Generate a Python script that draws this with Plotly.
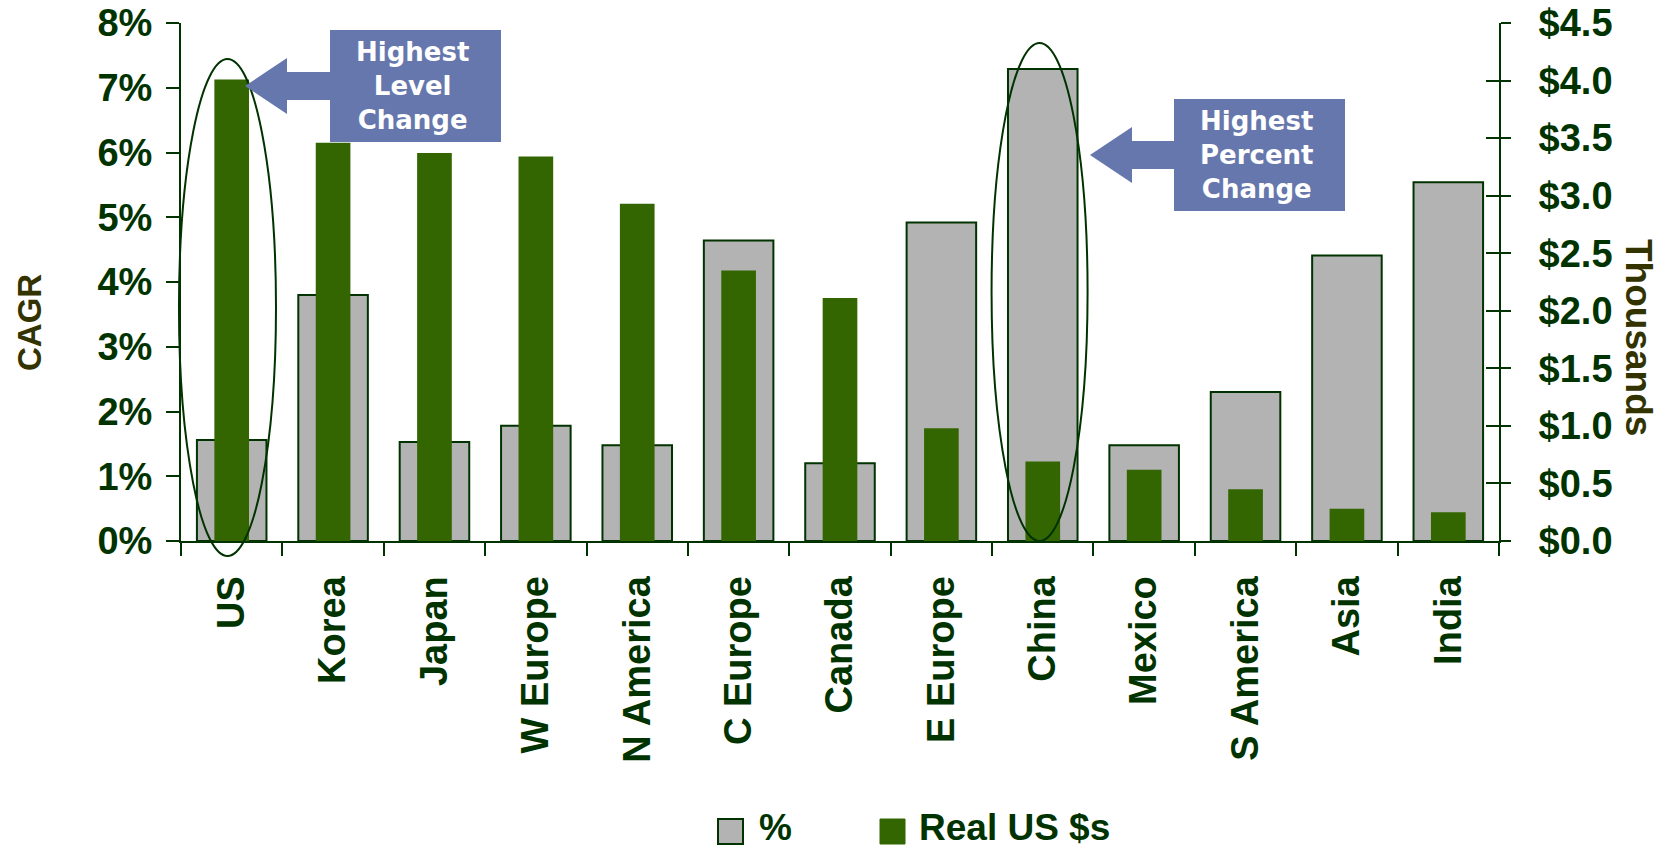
import plotly.graph_objects as go

# ---- data -------------------------------------------------------------
regions = ["US", "Korea", "Japan", "W Europe", "N America", "C Europe", "Canada",
           "E Europe", "China", "Mexico", "S America", "Asia", "India"]
cagr_pct = [1.56, 3.80, 1.53, 1.78, 1.48, 4.64, 1.20, 4.92, 7.29, 1.48, 2.30, 4.41, 5.54]
real_usd_k = [4.01, 3.46, 3.37, 3.34, 2.93, 2.35, 2.11, 0.98, 0.69, 0.62, 0.45, 0.28, 0.25]

pct_ticks = [0, 1, 2, 3, 4, 5, 6, 7, 8]
pct_labels = ["0%", "1%", "2%", "3%", "4%", "5%", "6%", "7%", "8%"]
usd_ticks = [0.0, 0.5, 1.0, 1.5, 2.0, 2.5, 3.0, 3.5, 4.0, 4.5]
usd_labels = ["$0.0", "$0.5", "$1.0", "$1.5", "$2.0", "$2.5", "$3.0", "$3.5", "$4.0", "$4.5"]

# ---- styling ----------------------------------------------------------
W, H = 1662, 849
L, R, T, B = 181, 163, 23, 308
PW, PH = W - L - R, H - T - B

DARK = "#003300"
OLIVE = "#333300"
GRAY = "#b3b3b3"
GREEN = "#336600"
CALLOUT = "#6677ad"
ARIAL = "Liberation Sans, Arial, sans-serif"
VERDANA = "DejaVu Sans, Verdana, sans-serif"


def px(x):
    """horizontal pixel -> paper fraction"""
    return (x - L) / PW


def py(y):
    """vertical pixel -> paper fraction"""
    return (H - B - y) / PH


def cat_x(name, dx):
    """paper x for a category centre shifted by dx category widths"""
    return (regions.index(name) + 0.5 + dx) / len(regions)


fig = go.Figure()

fig.add_trace(go.Bar(
    x=regions, y=cagr_pct, name="%", yaxis="y",
    width=0.686, marker=dict(color=GRAY, line=dict(color=DARK, width=2)),
    hoverinfo="skip", showlegend=False,
))
fig.add_trace(go.Bar(
    x=regions, y=real_usd_k, name="Real US $s", yaxis="y2",
    width=0.342, marker=dict(color=GREEN, line=dict(width=0)),
    hoverinfo="skip", showlegend=False,
))
# carrier for the inner tick marks of the right-hand scale
fig.add_trace(go.Scatter(x=[regions[0]], y=[None], yaxis="y3",
                         showlegend=False, hoverinfo="skip"))

tickfont = dict(family=ARIAL, size=38, color=DARK, weight="bold")

fig.update_layout(
    width=W, height=H,
    margin=dict(l=L, r=R, t=T, b=B, pad=0, autoexpand=False),
    paper_bgcolor="white", plot_bgcolor="white",
    barmode="overlay", showlegend=False,
    xaxis=dict(
        type="category", range=[-0.5, len(regions) - 0.5], automargin=False,
        tickson="boundaries", ticks="outside", ticklen=13, tickwidth=2,
        tickcolor=DARK, showline=True, linecolor=DARK, linewidth=2,
        tickangle=-90, tickfont=tickfont, ticklabelstandoff=18,
        showgrid=False, zeroline=False,
    ),
    yaxis=dict(
        range=[0, 8], tickmode="array", tickvals=pct_ticks, ticktext=pct_labels,
        automargin=False,
        ticks="outside", ticklen=13, tickwidth=2, tickcolor=DARK,
        showline=True, linecolor=DARK, linewidth=2,
        tickfont=tickfont, ticklabelstandoff=6,
        showgrid=False, zeroline=False,
    ),
    yaxis2=dict(
        overlaying="y", side="right", anchor="x", automargin=False,
        range=[0, 4.5], tickmode="array", tickvals=usd_ticks, ticktext=usd_labels,
        ticks="outside", ticklen=10, tickwidth=2, tickcolor=DARK,
        showline=True, linecolor=DARK, linewidth=2,
        tickfont=tickfont, ticklabelstandoff=20,
        showgrid=False, zeroline=False,
    ),
    yaxis3=dict(
        overlaying="y", side="right", anchor="x", automargin=False,
        range=[0, 4.5], tickmode="array", tickvals=usd_ticks,
        ticks="inside", ticklen=13, tickwidth=2, tickcolor=DARK,
        showticklabels=False, showline=False, showgrid=False, zeroline=False,
    ),
)

shapes = []
annotations = []

# highlight ellipses
shapes.append(dict(type="circle", xref="paper", yref="paper", layer="above",
                   x0=cat_x("US", -0.52), x1=cat_x("US", 0.437),
                   y0=py(556), y1=py(59),
                   line=dict(color=DARK, width=2), fillcolor="rgba(0,0,0,0)"))
shapes.append(dict(type="circle", xref="paper", yref="paper", layer="above",
                   x0=cat_x("China", -0.505), x1=cat_x("China", 0.442),
                   y0=py(541), y1=py(43),
                   line=dict(color=DARK, width=2), fillcolor="rgba(0,0,0,0)"))


def callout(box_x0, box_y0, tip_x, text, text_x):
    """blue label box with a left-pointing arrow"""
    bw, bh = 171, 112
    cy = box_y0 + bh / 2
    head_x = tip_x + 42
    pts = [(tip_x, cy), (head_x, cy - 28), (head_x, cy - 14), (box_x0 + 1, cy - 14),
           (box_x0 + 1, cy + 14), (head_x, cy + 14), (head_x, cy + 28)]
    path = "M " + " L ".join(f"{px(a):.5f},{py(b):.5f}" for a, b in pts) + " Z"
    shapes.append(dict(type="path", xref="paper", yref="paper", path=path,
                       fillcolor=CALLOUT, line=dict(width=0), layer="above"))
    shapes.append(dict(type="rect", xref="paper", yref="paper", layer="above",
                       x0=px(box_x0), x1=px(box_x0 + bw),
                       y0=py(box_y0 + bh), y1=py(box_y0),
                       fillcolor=CALLOUT, line=dict(width=0)))
    annotations.append(dict(xref="paper", yref="paper", x=px(text_x), y=py(cy),
                            xanchor="center", yanchor="middle", showarrow=False,
                            text=text, align="center",
                            font=dict(family=VERDANA, size=26, color="white",
                                      weight="bold")))


callout(330, 30, 245, "Highest<br>Level<br>Change", 412)
callout(1174, 99, 1090, "Highest<br>Percent<br>Change", 1257)

# axis titles
annotations.append(dict(xref="paper", yref="paper", x=px(29), y=py(323),
                        text="CAGR", textangle=-90, showarrow=False,
                        xanchor="center", yanchor="middle",
                        font=dict(family=ARIAL, size=33, color=OLIVE, weight="bold")))
annotations.append(dict(xref="paper", yref="paper", x=px(1639), y=py(337),
                        text="Thousands", textangle=90, showarrow=False,
                        xanchor="center", yanchor="middle",
                        font=dict(family=ARIAL, size=37, color=OLIVE, weight="bold")))

# legend
legend_items = [("%", GRAY, 2, 718, 757), ("Real US $s", GREEN, 0, 880, 917)]
for label, colour, lw, sx, tx in legend_items:
    shapes.append(dict(type="rect", xref="paper", yref="paper",
                       x0=px(sx), x1=px(sx + 25), y0=py(844), y1=py(819),
                       fillcolor=colour,
                       line=dict(color=DARK if lw else colour, width=lw or 1)))
    annotations.append(dict(xref="paper", yref="paper", x=px(tx), y=py(827),
                            xanchor="left", yanchor="middle", showarrow=False,
                            text=label,
                            font=dict(family=ARIAL, size=37, color=DARK, weight="bold")))

fig.update_layout(shapes=shapes, annotations=annotations)

fig.write_html("out.html")
